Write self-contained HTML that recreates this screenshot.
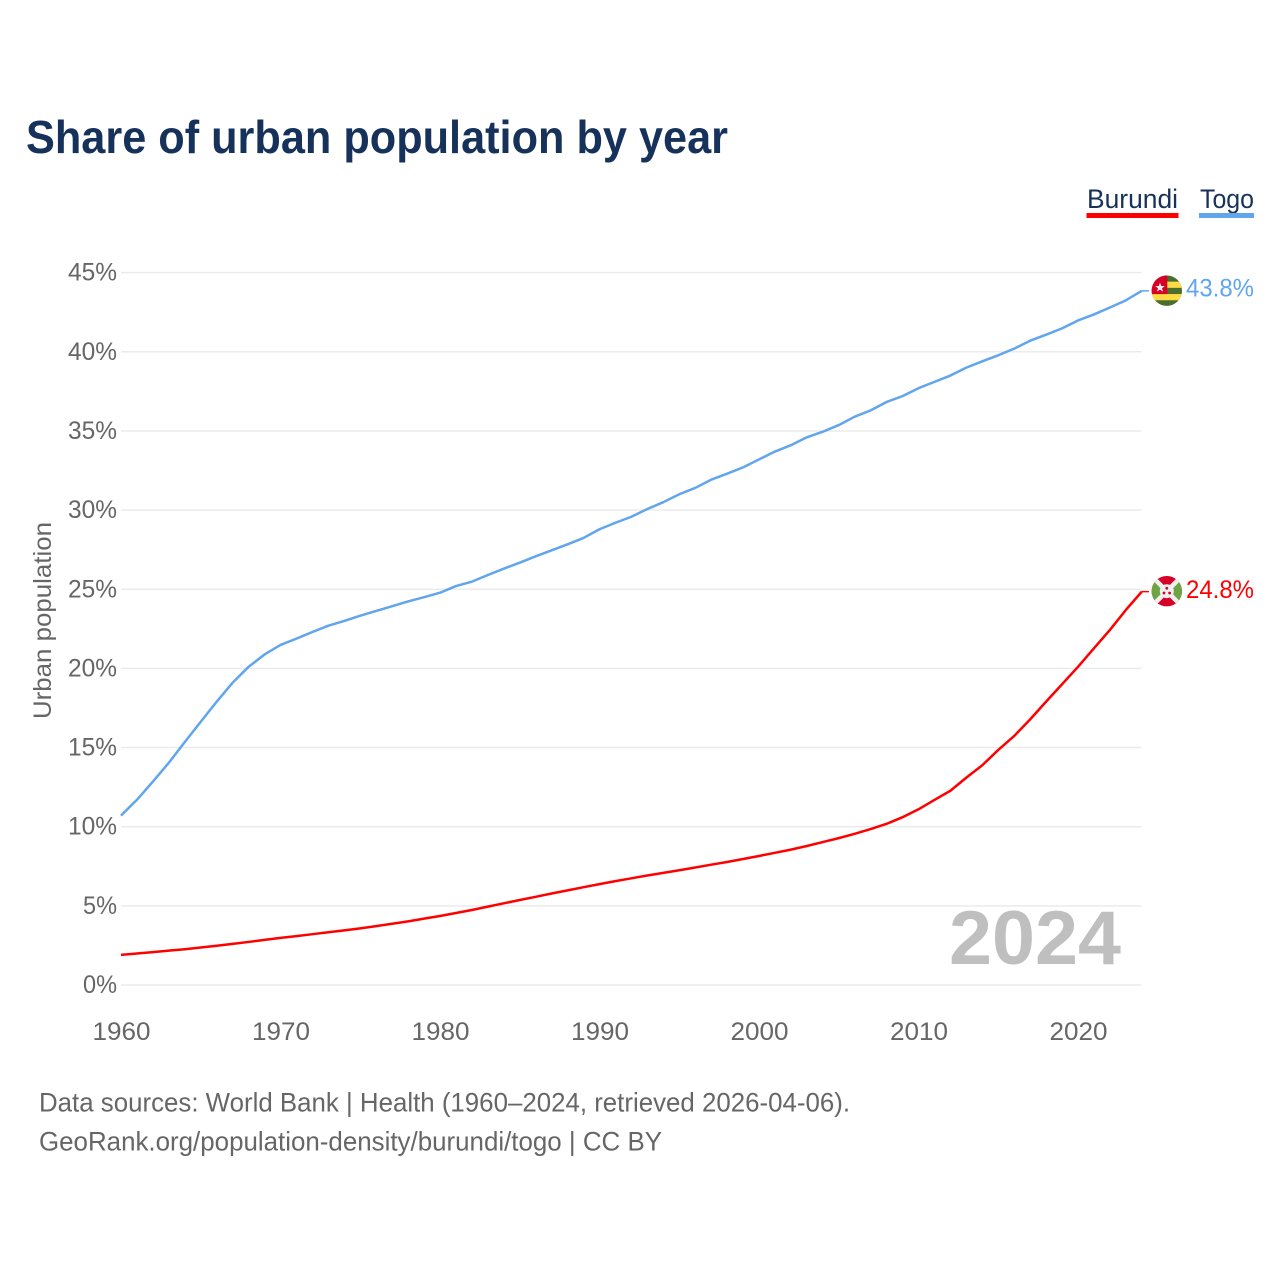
<!DOCTYPE html>
<html lang="en">
<head>
<meta charset="utf-8">
<title>Share of urban population by year</title>
<style>
html,body{margin:0;padding:0;background:#fff;width:1280px;height:1280px;overflow:hidden}
svg{display:block}
text{font-family:"Liberation Sans",sans-serif}
</style>
</head>
<body>
<svg id="chart" width="1280" height="1280" viewBox="0 0 1280 1280" xmlns="http://www.w3.org/2000/svg">
  <defs>
    <clipPath id="flag-clip"><circle cx="0" cy="0" r="15.2"></circle></clipPath>
  </defs>
  <rect x="0" y="0" width="1280" height="1280" fill="#ffffff"></rect>
  <text x="26" y="153" font-size="46" font-weight="700" fill="#17325a" textLength="702" lengthAdjust="spacingAndGlyphs">Share of urban population by year</text>

  <g>
    <g>
      <text x="1087" y="208" font-size="27" fill="#17325a" textLength="91" lengthAdjust="spacingAndGlyphs">Burundi</text>
      <rect x="1086.5" y="213" width="92" height="5" fill="#ff0000"></rect>
    </g>
    <g>
      <text x="1200" y="208" font-size="27" fill="#17325a" textLength="54" lengthAdjust="spacingAndGlyphs">Togo</text>
      <rect x="1199" y="213" width="55" height="5" fill="#60a5ed"></rect>
    </g>
  </g>

  <g id="grid"></g>
  <g id="y-axis"></g>
  <g id="x-axis"></g>

  <text transform="translate(51 719) rotate(-90)" x="0" y="0" font-size="25" fill="#666666" textLength="197" lengthAdjust="spacingAndGlyphs">Urban population</text>

  <text x="949" y="964" font-size="76" font-weight="700" fill="#bfbfbf" textLength="172" lengthAdjust="spacingAndGlyphs">2024</text>

  <g id="series"></g>

  <g id="flag-togo">
    <g clip-path="url(#flag-clip)">
      <rect x="-16" y="-16" width="32" height="32" fill="#496e2d"></rect>
      <rect x="-16" y="-9" width="32" height="6.2" fill="#ffda44"></rect>
      <rect x="-16" y="3.4" width="32" height="6.2" fill="#ffda44"></rect>
      <rect x="-16" y="-16" width="16.5" height="19.4" fill="#d80027"></rect>
      <polygon points="-6.8,-8 -5.5,-4.6 -2,-4.6 -4.8,-2.4 -3.7,1 -6.8,-1 -9.9,1 -8.8,-2.4 -11.6,-4.6 -8.1,-4.6" fill="#f0f0f0"></polygon>
    </g>
  </g>
  <g id="flag-burundi">
    <g clip-path="url(#flag-clip)">
      <rect x="-16" y="-16" width="32" height="32" fill="#d80027"></rect>
      <polygon points="-16,-16 0,0 -16,16" fill="#6da544"></polygon>
      <polygon points="16,-16 0,0 16,16" fill="#6da544"></polygon>
      <line x1="-16" y1="-16" x2="16" y2="16" stroke="#f0f0f0" stroke-width="4.5"></line>
      <line x1="16" y1="-16" x2="-16" y2="16" stroke="#f0f0f0" stroke-width="4.5"></line>
      <circle cx="0" cy="0" r="7" fill="#f0f0f0"></circle>
      <circle cx="0" cy="-3" r="1.4" fill="#d80027"></circle>
      <circle cx="-2.8" cy="1.8" r="1.4" fill="#d80027"></circle>
      <circle cx="2.8" cy="1.8" r="1.4" fill="#d80027"></circle>
    </g>
  </g>

  <text x="39" y="1111.5" font-size="26.5" fill="#666666" textLength="811" lengthAdjust="spacingAndGlyphs">Data sources: World Bank | Health (1960–2024, retrieved 2026-04-06).</text>
  <text x="39" y="1150.5" font-size="26.5" fill="#666666" textLength="623" lengthAdjust="spacingAndGlyphs">GeoRank.org/population-density/burundi/togo | CC BY</text>
</svg>
<script>
var years = [1960,1961,1962,1963,1964,1965,1966,1967,1968,1969,1970,1971,1972,1973,1974,1975,1976,1977,1978,1979,1980,1981,1982,1983,1984,1985,1986,1987,1988,1989,1990,1991,1992,1993,1994,1995,1996,1997,1998,1999,2000,2001,2002,2003,2004,2005,2006,2007,2008,2009,2010,2011,2012,2013,2014,2015,2016,2017,2018,2019,2020,2021,2022,2023,2024];
var togoValues = [10.7,11.7,12.85,14.04,15.35,16.63,17.9,19.1,20.1,20.88,21.48,21.88,22.3,22.7,23.0,23.33,23.63,23.93,24.23,24.5,24.78,25.2,25.48,25.9,26.3,26.68,27.08,27.46,27.84,28.24,28.79,29.2,29.58,30.07,30.5,31.0,31.4,31.92,32.3,32.7,33.2,33.7,34.1,34.6,34.95,35.37,35.9,36.3,36.83,37.2,37.7,38.1,38.5,39.0,39.4,39.78,40.2,40.7,41.08,41.48,41.98,42.36,42.8,43.25,43.85];
var burundiValues = [1.9,1.99,2.08,2.17,2.26,2.37,2.48,2.6,2.72,2.85,2.98,3.09,3.21,3.33,3.45,3.58,3.72,3.87,4.02,4.19,4.36,4.55,4.74,4.95,5.16,5.37,5.57,5.78,5.98,6.18,6.37,6.56,6.74,6.92,7.08,7.25,7.42,7.6,7.77,7.96,8.15,8.35,8.55,8.78,9.03,9.28,9.55,9.85,10.18,10.6,11.1,11.69,12.27,13.1,13.88,14.85,15.73,16.78,17.9,19.0,20.1,21.27,22.43,23.69,24.85];
var xTickLabels = ["1960","1970","1980","1990","2000","2010","2020"];
var yTickLabels = ["0%","5%","10%","15%","20%","25%","30%","35%","40%","45%"];
var yTickValues = [0,5,10,15,20,25,30,35,40,45];
var togoEndLabel = "43.8%";
var burundiEndLabel = "24.8%";

var NS = "http://www.w3.org/2000/svg";
function xScale(year) { return 121 + 15.95 * (year - 1960); }
function yScale(value) { return 985 - 15.83 * value; }

var gridLayer = document.getElementById("grid");
var yAxisLayer = document.getElementById("y-axis");
var xAxisLayer = document.getElementById("x-axis");
var seriesLayer = document.getElementById("series");
var root = document.getElementById("chart");

yTickValues.forEach(function (value, i) {
  var line = document.createElementNS(NS, "line");
  
  
  line.setAttribute("x1", 121);
  line.setAttribute("x2", 1141.5);
  line.setAttribute("y1", yScale(value));
  line.setAttribute("y2", yScale(value));
  line.setAttribute("stroke", "#ebebeb");
  line.setAttribute("stroke-width", "1.5");
  gridLayer.appendChild(line);

  var label = document.createElementNS(NS, "text");
  
  
  label.setAttribute("x", 117);
  label.setAttribute("y", yScale(value) + 8);
  label.setAttribute("text-anchor", "end");
  label.setAttribute("font-size", "25");
  label.setAttribute("fill", "#666666");
  label.setAttribute("textLength", yTickLabels[i].length === 2 ? 34 : 49);
  label.setAttribute("lengthAdjust", "spacingAndGlyphs");
  label.textContent = yTickLabels[i];
  yAxisLayer.appendChild(label);
});

xTickLabels.forEach(function (tick) {
  var label = document.createElementNS(NS, "text");
  
  
  label.setAttribute("x", xScale(Number(tick)) + 0.5);
  label.setAttribute("y", 1040);
  label.setAttribute("text-anchor", "middle");
  label.setAttribute("font-size", "25");
  label.setAttribute("fill", "#666666");
  label.setAttribute("textLength", 58);
  label.setAttribute("lengthAdjust", "spacingAndGlyphs");
  label.textContent = tick;
  xAxisLayer.appendChild(label);
});

function linePath(values) {
  return values.map(function (v, i) {
    return (i === 0 ? "M" : "L") + xScale(years[i]).toFixed(2) + " " + yScale(v).toFixed(2);
  }).join(" ");
}

var togoLine = document.createElementNS(NS, "path");


togoLine.setAttribute("d", linePath(togoValues));
togoLine.setAttribute("fill", "none");
togoLine.setAttribute("stroke", "#60a5ed");
togoLine.setAttribute("stroke-width", "2.5");
togoLine.setAttribute("stroke-linejoin", "round");
seriesLayer.appendChild(togoLine);

var burundiLine = document.createElementNS(NS, "path");


burundiLine.setAttribute("d", linePath(burundiValues));
burundiLine.setAttribute("fill", "none");
burundiLine.setAttribute("stroke", "#ff0000");
burundiLine.setAttribute("stroke-width", "2.5");
burundiLine.setAttribute("stroke-linejoin", "round");
seriesLayer.appendChild(burundiLine);

var togoLast = yScale(togoValues[togoValues.length - 1]);
var burundiLast = yScale(burundiValues[burundiValues.length - 1]);

var togoLeader = document.createElementNS(NS, "line");


togoLeader.setAttribute("x1", xScale(years[years.length - 1]));
togoLeader.setAttribute("x2", 1149);
togoLeader.setAttribute("y1", togoLast);
togoLeader.setAttribute("y2", togoLast);
togoLeader.setAttribute("stroke", "#60a5ed");
togoLeader.setAttribute("stroke-width", "1.5");
seriesLayer.appendChild(togoLeader);

var burundiLeader = document.createElementNS(NS, "line");


burundiLeader.setAttribute("x1", xScale(years[years.length - 1]));
burundiLeader.setAttribute("x2", 1149);
burundiLeader.setAttribute("y1", burundiLast);
burundiLeader.setAttribute("y2", burundiLast);
burundiLeader.setAttribute("stroke", "#ff0000");
burundiLeader.setAttribute("stroke-width", "1.5");
seriesLayer.appendChild(burundiLeader);

document.getElementById("flag-togo").setAttribute("transform", "translate(1166.8 " + (togoLast - 0.2) + ")");
document.getElementById("flag-burundi").setAttribute("transform", "translate(1166.8 " + (burundiLast - 0.4) + ")");

var togoLabel = document.createElementNS(NS, "text");


togoLabel.setAttribute("x", 1186);
togoLabel.setAttribute("y", togoLast + 5.5);
togoLabel.setAttribute("font-size", "25");
togoLabel.setAttribute("fill", "#60a5ed");
togoLabel.setAttribute("textLength", 68);
togoLabel.setAttribute("lengthAdjust", "spacingAndGlyphs");
togoLabel.textContent = togoEndLabel;
root.appendChild(togoLabel);

var burundiLabel = document.createElementNS(NS, "text");


burundiLabel.setAttribute("x", 1186);
burundiLabel.setAttribute("y", burundiLast + 6.5);
burundiLabel.setAttribute("font-size", "25");
burundiLabel.setAttribute("fill", "#ff0000");
burundiLabel.setAttribute("textLength", 68);
burundiLabel.setAttribute("lengthAdjust", "spacingAndGlyphs");
burundiLabel.textContent = burundiEndLabel;
root.appendChild(burundiLabel);
</script>
</body>
</html>
